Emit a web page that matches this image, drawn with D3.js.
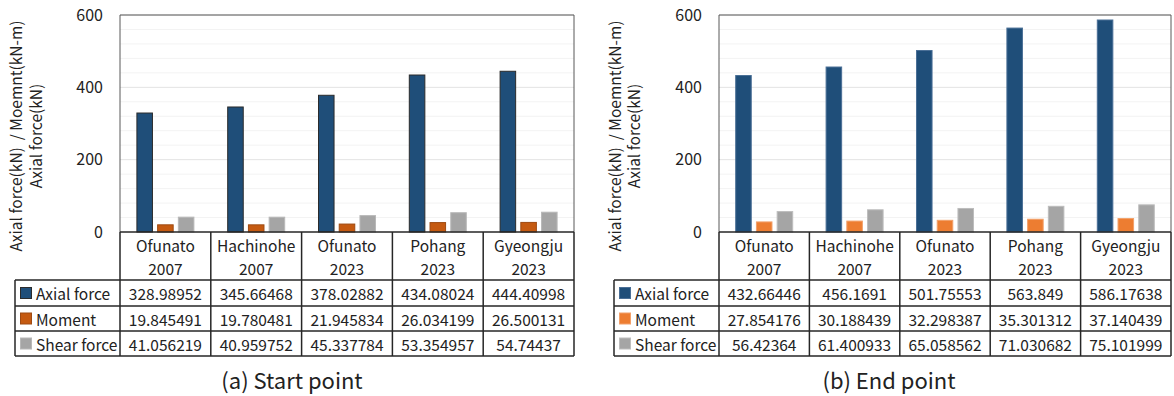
<!DOCTYPE html>
<html><head><meta charset="utf-8">
<script src="https://cdn.jsdelivr.net/npm/d3@7"></script>
<style>
html,body{margin:0;padding:0;background:#fff;}
svg{display:block;font-family:"Noto Sans CJK KR","Noto Sans",sans-serif;}
</style></head>
<body><svg id="chart" width="1174" height="396"></svg>
<script>
const categories = ["Ofunato 2007","Hachinohe 2007","Ofunato 2023","Pohang 2023","Gyeongju 2023"];
const seriesNames = ["Axial force","Moment","Shear force"];
const startAxial  = [328.98952, 345.66468, 378.02882, 434.08024, 444.40998];
const startMoment = [19.845491, 19.780481, 21.945834, 26.034199, 26.500131];
const startShear  = [41.056219, 40.959752, 45.337784, 53.354957, 54.74437];
const endAxial  = [432.66446, 456.1691, 501.75553, 563.849, 586.17638];
const endMoment = [27.854176, 30.188439, 32.298387, 35.301312, 37.140439];
const endShear  = [56.42364, 61.400933, 65.058562, 71.030682, 75.101999];
const yTicks = [0, 200, 400, 600];
const minorTicks = [40,80,120,160,200,240,280,320,360,400,440,480,520,560,600];
const yTitle1 = "Axial force(kN)  / Moemnt(kN-m)";
const yTitle2 = "Axial force(kN)";
const captions = ["(a) Start point", "(b) End point"];

const svg = d3.select("#chart");

function panel(cfg) {
  const g = svg.append("g");
  const series = cfg.series;
  const x = d3.scaleBand().domain(categories).range([cfg.left, cfg.right]).padding(0);
  const xi = d3.scaleBand().domain(seriesNames).range([-28.5, 28.5]).paddingInner(0.25);
  const y = d3.scaleLinear().domain([0, 600]).range([232, 15]);

  // gridlines
  g.selectAll(".minor").data(minorTicks).join("line")
    .attr("x1", cfg.left).attr("x2", cfg.right)
    .attr("y1", d => y(d)).attr("y2", d => y(d))
    .attr("stroke", d => d % 200 === 0 ? "#e3e3e3" : "#f3f3f3").attr("stroke-width", 1);

  // bars
  seriesNames.forEach((s, si) => {
    g.selectAll(".bar" + si).data(series[si]).join("rect")
      .attr("x", (d, i) => x(categories[i]) + x.bandwidth() / 2 + xi(s))
      .attr("width", xi.bandwidth())
      .attr("y", d => y(d))
      .attr("height", d => y(0) - y(d))
      .attr("fill", cfg.colors[si])
      .attr("stroke", cfg.strokes[si]).attr("stroke-width", 1);
  });

  // plot frame
  g.append("path")
    .attr("d", `M${cfg.left},232V15H${cfg.right}V232`)
    .attr("fill", "none").attr("stroke", "#595959").attr("stroke-width", 1);

  // y ticks
  const yAxis = d3.axisLeft(y).tickValues(yTicks).tickSize(0).tickPadding(17);
  const ya = g.append("g").attr("transform", `translate(${cfg.left},0)`).call(yAxis);
  ya.select(".domain").remove();
  ya.selectAll("text").attr("font-size", 16).attr("fill", "#222").attr("font-family", "Noto Sans CJK KR");

  // y title
  g.append("text").attr("transform", `translate(${cfg.titleX1},136) rotate(-90)`)
    .attr("text-anchor", "middle").attr("dominant-baseline", "central")
    .attr("font-size", 15.5).attr("fill", "#222").attr("xml:space", "preserve").style("white-space", "pre").text(yTitle1);
  g.append("text").attr("transform", `translate(${cfg.titleX2},136) rotate(-90)`)
    .attr("text-anchor", "middle").attr("dominant-baseline", "central")
    .attr("font-size", 15.5).attr("fill", "#222").text(yTitle2);

  // table
  const rows = [232, 280, 306, 331, 356];
  const lc = "#262626";
  g.append("line").attr("x1", cfg.left).attr("x2", cfg.right).attr("y1", 232).attr("y2", 232).attr("stroke", lc).attr("stroke-width", 1.5);
  [280, 306, 331, 356].forEach(r => {
    g.append("line").attr("x1", cfg.tableLeft).attr("x2", cfg.right).attr("y1", r).attr("y2", r).attr("stroke", lc).attr("stroke-width", 1.5);
  });
  const cols = categories.map(c => x(c)).concat([cfg.right]);
  cols.forEach(cx => {
    g.append("line").attr("x1", cx).attr("x2", cx).attr("y1", 232).attr("y2", 356).attr("stroke", lc).attr("stroke-width", 1.5);
  });
  g.append("line").attr("x1", cfg.tableLeft).attr("x2", cfg.tableLeft).attr("y1", 280).attr("y2", 356).attr("stroke", lc).attr("stroke-width", 1.5);

  // category labels
  categories.forEach(c => {
    const parts = c.split(" ");
    const cx = x(c) + x.bandwidth() / 2;
    g.append("text").attr("x", cx).attr("y", 245).attr("text-anchor", "middle").attr("dominant-baseline", "central")
      .attr("font-size", 15.5).attr("fill", "#222").text(parts[0]);
    g.append("text").attr("x", cx).attr("y", 268).attr("text-anchor", "middle").attr("dominant-baseline", "central")
      .attr("font-size", 15.5).attr("fill", "#222").text(parts[1]);
  });

  // rows
  seriesNames.forEach((s, si) => {
    const cy = (rows[si + 1] + rows[si + 2]) / 2;
    g.append("rect").attr("x", cfg.tableLeft + 5.5).attr("y", cy - 5.5).attr("width", 11).attr("height", 11)
      .attr("fill", cfg.colors[si]).attr("stroke", cfg.strokes[si]).attr("stroke-width", 1);
    g.append("text").attr("x", cfg.tableLeft + 21).attr("y", cy).attr("dominant-baseline", "central")
      .attr("font-size", 15.5).attr("fill", "#222").text(s);
    series[si].forEach((v, i) => {
      g.append("text").attr("x", x(categories[i]) + x.bandwidth() / 2).attr("y", cy)
        .attr("text-anchor", "middle").attr("dominant-baseline", "central")
        .attr("font-size", 15.5).attr("fill", "#222").text(String(v));
    });
  });

  // caption
  g.append("text").attr("x", cfg.capX).attr("y", 379).attr("text-anchor", "middle").attr("dominant-baseline", "central")
    .attr("font-size", 22).attr("fill", "#222").text(cfg.caption);
}

panel({
  left: 120, right: 574, tableLeft: 15, titleX1: 15, titleX2: 35, capX: 292,
  series: [startAxial, startMoment, startShear],
  colors: ["#1f4e79", "#c55a11", "#a5a5a5"],
  strokes: ["#2b2b2b", "#9e4a12", "#b8b8b8"],
  caption: captions[0]
});
panel({
  left: 719, right: 1171, tableLeft: 614, titleX1: 614, titleX2: 633, capX: 889,
  series: [endAxial, endMoment, endShear],
  colors: ["#1f4e79", "#ed7d31", "#a5a5a5"],
  strokes: ["#4a6f96", "#f2a06a", "#bdbdbd"],
  caption: captions[1]
});
</script></body></html>
